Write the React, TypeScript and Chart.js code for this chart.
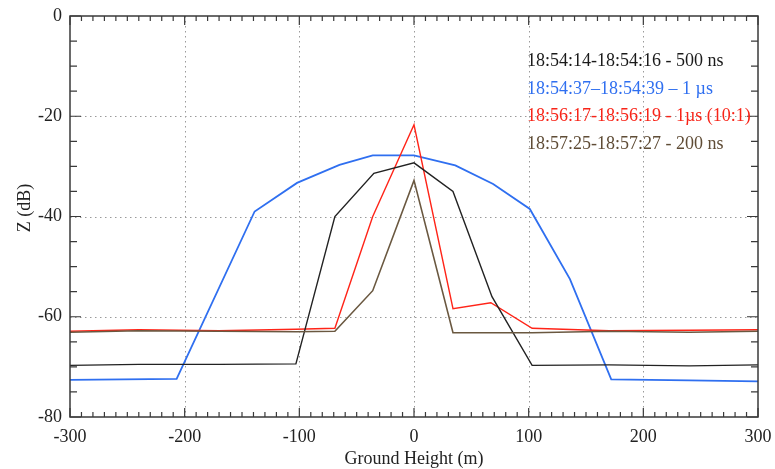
import React, { useEffect, useRef } from "react";
import { Chart, registerables } from "chart.js";

Chart.register(...registerables);

// Ground height (m) of each point, and Z (dB) per series
const blackX = [-300, -240, -170, -103, -69, -35, 0, 34, 68, 103, 170, 240, 300];
const blackY = [-69.7, -69.5, -69.5, -69.4, -40, -31.4, -29.3, -35, -56, -69.7, -69.6, -69.8, -69.6];

const blueX = [-300, -207, -139, -102, -65, -36, 0, 36, 69, 101, 136, 172, 240, 300];
const blueY = [-72.6, -72.4, -39, -33.3, -29.7, -27.8, -27.8, -29.8, -33.5, -38.5, -52.5, -72.5, -72.7, -72.9];

const redX = [-300, -240, -170, -103, -69, -36, 0, 34, 67, 103, 170, 240, 300];
const redY = [-62.9, -62.6, -62.8, -62.5, -62.3, -40, -21.7, -58.4, -57.2, -62.3, -62.8, -62.7, -62.6];

const brownX = [-300, -240, -170, -103, -69, -36, 0, 34, 103, 170, 240, 300];
const brownY = [-63.1, -62.8, -62.9, -63, -62.9, -54.8, -32.8, -63.2, -63.2, -62.9, -63.1, -62.9];

const seriesLabels = [
  "18:54:14-18:54:16 - 500 ns",
  "18:54:37\u201318:54:39 \u2013 1 \u00b5s",
  "18:56:17-18:56:19 - 1\u00b5s (10:1)",
  "18:57:25-18:57:27 - 200 ns",
];
const seriesColors = ["#222222", "#2f6ff0", "#ff2418", "#6a5840"];
const legendColors = ["#1a1a1a", "#2f6ff0", "#f82418", "#5f4c36"];

const xTicks = [-300, -200, -100, 0, 100, 200, 300];
const yTicks = [0, -20, -40, -60, -80];
const xTitle = "Ground Height (m)";
const yTitle = "Z (dB)";

const FONT = "'Liberation Serif', 'Times New Roman', serif";

const pts = (xs: number[], ys: number[]) => xs.map((x, i) => ({ x, y: ys[i] }));

const framePlugin = {
  id: "frame",
  beforeDatasetsDraw(chart: any) {
    const { ctx, chartArea: a, scales } = chart;
    const xs = scales.x, ys = scales.y;
    ctx.save();
    ctx.strokeStyle = "#9a9a9a";
    ctx.lineWidth = 1;
    ctx.setLineDash([1.5, 3.5]);
    for (const v of xTicks) {
      if (v === xs.min || v === xs.max) continue;
      const px = Math.round(xs.getPixelForValue(v)) + 0.5;
      ctx.beginPath();
      ctx.moveTo(px, a.top);
      ctx.lineTo(px, a.bottom);
      ctx.stroke();
    }
    for (const v of yTicks) {
      if (v === ys.min || v === ys.max) continue;
      const py = Math.round(ys.getPixelForValue(v)) + 0.5;
      ctx.beginPath();
      ctx.moveTo(a.left, py);
      ctx.lineTo(a.right, py);
      ctx.stroke();
    }
    ctx.restore();
  },
  afterDatasetsDraw(chart: any) {
    const { ctx, chartArea: a, scales } = chart;
    const xs = scales.x, ys = scales.y;
    ctx.save();
    ctx.setLineDash([]);
    ctx.strokeStyle = "#3a3a3a";
    ctx.lineWidth = 1.5;
    ctx.strokeRect(a.left, a.top, a.right - a.left, a.bottom - a.top);
    ctx.lineWidth = 1.2;
    // x ticks (every 10, major every 100)
    for (let v = xs.min; v <= xs.max; v += 10) {
      const px = xs.getPixelForValue(v);
      const len = v % 100 === 0 ? 9 : 5;
      ctx.beginPath();
      ctx.moveTo(px, a.bottom);
      ctx.lineTo(px, a.bottom - len);
      ctx.moveTo(px, a.top);
      ctx.lineTo(px, a.top + len);
      ctx.stroke();
    }
    // y ticks (every 5, major every 20)
    for (let v = ys.min; v <= ys.max; v += 5) {
      const py = ys.getPixelForValue(v);
      const len = v % 20 === 0 ? 11 : 7;
      ctx.beginPath();
      ctx.moveTo(a.left, py);
      ctx.lineTo(a.left + len, py);
      ctx.moveTo(a.right, py);
      ctx.lineTo(a.right - len, py);
      ctx.stroke();
    }
    // axis titles
    ctx.fillStyle = "#222";
    ctx.font = `18px ${FONT}`;
    ctx.textAlign = "center";
    ctx.textBaseline = "middle";
    ctx.fillText(xTitle, (a.left + a.right) / 2, 459);
    ctx.save();
    ctx.translate(25, 208);
    ctx.rotate(-Math.PI / 2);
    ctx.fillText(yTitle, 0, 0);
    ctx.restore();
    // legend text
    ctx.font = `18px ${FONT}`;
    ctx.textAlign = "left";
    const legendY = [61, 89, 116, 144];
    seriesLabels.forEach((t, i) => {
      ctx.fillStyle = legendColors[i];
      ctx.fillText(t, 527, legendY[i]);
    });
    ctx.restore();
  },
};

export default function App() {
  const ref = useRef<HTMLCanvasElement | null>(null);
  useEffect(() => {
    if (!ref.current) return;
    const mk = (i: number, data: any[], w: number) => ({
      label: seriesLabels[i],
      data,
      borderColor: seriesColors[i],
      backgroundColor: seriesColors[i],
      borderWidth: w,
      pointRadius: 0,
      tension: 0,
      fill: false,
    });
    const chart = new Chart(ref.current, {
      type: "line",
      data: {
        datasets: [
          mk(3, pts(brownX, brownY), 1.6),
          mk(0, pts(blackX, blackY), 1.4),
          mk(2, pts(redX, redY), 1.4),
          mk(1, pts(blueX, blueY), 1.8),
        ],
      },
      options: {
        responsive: false,
        animation: false,
        layout: { padding: { top: 16, right: 17, left: 0, bottom: 0 } },
        plugins: { legend: { display: false }, tooltip: { enabled: false } },
        scales: {
          x: {
            type: "linear",
            min: -300,
            max: 300,
            grid: { display: false, drawTicks: false },
            border: { display: false },
            ticks: {
              stepSize: 100,
              autoSkip: false,
              maxRotation: 0,
              padding: 9,
              color: "#222",
              font: { family: FONT, size: 18 },
              callback: (v: any) => String(v),
            },
            afterFit: (s: any) => { s.height = 52; s.paddingLeft = 0; s.paddingRight = 0; },
          },
          y: {
            type: "linear",
            min: -80,
            max: 0,
            grid: { display: false, drawTicks: false },
            border: { display: false },
            ticks: {
              stepSize: 20,
              padding: 8,
              color: "#222",
              font: { family: FONT, size: 18 },
              callback: (v: any) => String(v),
            },
            afterFit: (s: any) => { s.width = 70; s.paddingTop = 0; s.paddingBottom = 0; },
          },
        },
      },
      plugins: [framePlugin],
    } as any);
    return () => chart.destroy();
  }, []);
  return (
    <div style={{ position: "absolute", left: 0, top: 0, width: 775, height: 469, background: "#fff" }}>
      <canvas ref={ref} width={775} height={469} style={{ display: "block" }} />
    </div>
  );
}
